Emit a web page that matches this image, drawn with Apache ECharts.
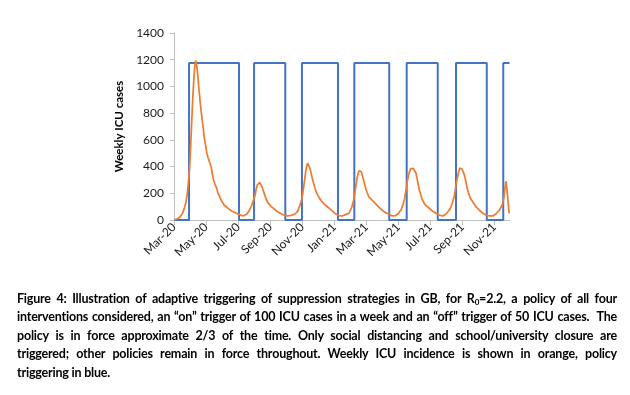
<!DOCTYPE html>
<html>
<head>
<meta charset="utf-8">
<script src="https://cdn.jsdelivr.net/npm/echarts@6/dist/echarts.min.js"></script>
<style>
  html, body { margin: 0; padding: 0; background: #ffffff; }
  #wrap { position: relative; width: 630px; height: 395px; overflow: hidden; }
  #chart { position: absolute; left: 0; top: 0; width: 630px; height: 395px; }
  #caption { position: absolute; left: 17px; top: 289.7px; width: 600px;
    font-family: Lato, "Liberation Sans", sans-serif; font-weight: bold; font-size: 12.5px;
    letter-spacing: -0.2px; color: #000; line-height: 18.6px; }
  #caption .ln { white-space: nowrap; display: block; height: 18.6px; }
  #caption .ln span { display: inline-block; white-space: nowrap; }
  sub { font-size: 8px; vertical-align: -2px; line-height: 0; }
</style>
</head>
<body>
<div id="wrap">
  <div id="chart"></div>
  <div id="caption">
    <div class="ln"><span>Figure 4: Illustration of adaptive triggering of suppression strategies in GB, for R<sub>0</sub>=2.2, a policy of all four</span></div>
    <div class="ln"><span>interventions considered, an “on” trigger of 100 ICU cases in a week and an “off” trigger of 50 ICU cases.&nbsp; The</span></div>
    <div class="ln"><span>policy is in force approximate 2/3 of the time. Only social distancing and school/university closure are</span></div>
    <div class="ln"><span>triggered; other policies remain in force throughout. Weekly ICU incidence is shown in orange, policy</span></div>
    <div class="ln last"><span>triggering in blue.</span></div>
  </div>
</div>
<script>
// ---- Data (x in months since 1 Mar 2020) ----
var tickLabels = ["Mar-20","May-20","Jul-20","Sep-20","Nov-20","Jan-21","Mar-21","May-21","Jul-21","Sep-21","Nov-21"];

var icuMonth = [0.00,0.15,0.30,0.45,0.55,0.65,0.75,0.83,0.90,0.98,1.05,1.12,1.19,1.25,1.30,1.35,1.40,1.45,1.50,1.55,1.62,1.70,1.78,1.85,1.91,1.98,2.05,2.12,2.20,2.27,2.33,2.40,2.47,2.54,2.60,2.66,2.75,2.82,2.90,2.98,3.06,3.14,3.22,3.30,3.37,3.45,3.53,3.60,3.68,3.76,3.84,3.92,4.00,4.08,4.16,4.24,4.30,4.38,4.46,4.54,4.62,4.70,4.78,4.85,4.92,5.00,5.06,5.12,5.20,5.28,5.35,5.42,5.50,5.56,5.63,5.70,5.77,5.84,5.92,6.00,6.08,6.16,6.24,6.32,6.40,6.49,6.58,6.66,6.74,6.82,6.91,7.00,7.08,7.16,7.24,7.32,7.40,7.48,7.56,7.64,7.72,7.80,7.88,7.96,8.03,8.10,8.17,8.22,8.28,8.34,8.40,8.46,8.52,8.58,8.65,8.72,8.80,8.88,8.96,9.03,9.10,9.18,9.26,9.35,9.45,9.55,9.65,9.76,9.86,9.96,10.06,10.18,10.30,10.40,10.49,10.58,10.68,10.78,10.91,11.00,11.08,11.15,11.22,11.30,11.37,11.43,11.50,11.57,11.63,11.70,11.77,11.84,11.92,12.00,12.08,12.16,12.25,12.35,12.45,12.57,12.68,12.80,12.90,12.99,13.10,13.20,13.30,13.41,13.52,13.62,13.72,13.82,13.92,14.02,14.11,14.20,14.30,14.40,14.49,14.57,14.64,14.70,14.78,14.86,14.94,15.02,15.11,15.18,15.25,15.32,15.40,15.48,15.56,15.63,15.72,15.82,15.94,16.05,16.15,16.26,16.36,16.46,16.56,16.66,16.78,16.88,16.98,17.08,17.19,17.28,17.36,17.43,17.50,17.57,17.64,17.71,17.78,17.85,17.92,17.99,18.06,18.13,18.20,18.27,18.34,18.42,18.50,18.58,18.65,18.75,18.85,18.95,19.06,19.16,19.27,19.38,19.48,19.58,19.70,19.80,19.90,20.00,20.10,20.20,20.32,20.42,20.53,20.60,20.66,20.71,20.74,20.78,20.83,20.88,20.93];

var icuValue = [0,6,15,35,55,90,135,200,280,400,580,775,950,1075,1150,1195,1170,1125,1060,990,900,810,730,660,600,555,500,470,440,415,395,340,300,275,255,240,200,185,160,140,125,110,105,95,88,80,72,68,62,58,55,50,46,42,36,32,30,33,38,45,55,70,90,110,135,160,185,225,262,275,282,270,245,225,200,175,150,135,120,108,100,92,85,75,68,62,55,48,42,40,37,33,30,30,32,34,38,40,45,50,65,90,115,145,190,250,310,360,400,425,415,395,372,340,305,275,240,210,190,175,160,150,135,125,112,100,92,88,70,60,48,37,33,30,30,33,38,42,50,68,90,115,150,210,265,310,350,370,375,360,330,300,260,225,200,175,165,150,140,125,110,95,85,75,65,55,50,45,38,30,25,32,40,50,62,80,115,160,225,290,335,360,385,395,385,370,350,310,265,225,195,160,140,125,110,100,88,75,65,58,50,42,36,33,30,35,45,58,75,95,120,150,175,230,285,325,365,390,400,380,360,338,300,260,225,190,165,150,138,120,100,88,75,62,52,45,37,33,30,30,30,35,45,58,75,95,125,170,230,275,290,240,175,110,50];

var triggerOn  = [0.94, 5.00, 7.99, 11.26, 14.53, 17.61, 20.56];
var triggerOff = [4.06, 6.95, 10.24, 13.44, 16.47, 19.53];
var policyLevel = 1175;
var xEnd = 20.95;

// ---- Build series data ----
var icuData = icuMonth.map(function (m, i) { return [m, icuValue[i]]; });
var policyData = [[0, 0]];
for (var i = 0; i < triggerOn.length; i++) {
  policyData.push([triggerOn[i], 0], [triggerOn[i], policyLevel]);
  if (i < triggerOff.length) {
    policyData.push([triggerOff[i], policyLevel], [triggerOff[i], 0]);
  } else {
    policyData.push([xEnd, policyLevel]);
  }
}

var font = 'Lato, "Liberation Sans", sans-serif';
var chart = echarts.init(document.getElementById('chart'), null, { renderer: 'canvas' });
chart.setOption({
  animation: false,
  backgroundColor: '#ffffff',
  grid: { left: 174, top: 33, width: 335.5, height: 187, containLabel: false },
  xAxis: {
    type: 'value', min: 0, max: xEnd, interval: 2,
    axisLine: { show: true, lineStyle: { color: '#BFBFBF', width: 1 } },
    axisTick: { show: true, length: 5, lineStyle: { color: '#BFBFBF' } },
    splitLine: { show: false },
    axisLabel: {
      rotate: 45, margin: 5, fontFamily: font, fontSize: 12, color: '#1a1a1a',
      showMaxLabel: false,
      formatter: function (v) {
        var k = Math.round(v / 2);
        if (Math.abs(v - k * 2) < 1e-6 && k >= 0 && k < tickLabels.length) return tickLabels[k];
        return '';
      }
    }
  },
  yAxis: {
    type: 'value', min: 0, max: 1400, interval: 200,
    name: 'Weekly ICU cases', nameLocation: 'middle', nameGap: 42,
    nameTextStyle: { fontFamily: font, fontSize: 11.5, fontWeight: 'bold', color: '#000' },
    axisLine: { show: true, lineStyle: { color: '#BFBFBF', width: 1 } },
    axisTick: { show: true, length: 4, lineStyle: { color: '#BFBFBF' } },
    splitLine: { show: false },
    axisLabel: {
      margin: 10, fontFamily: font, fontSize: 12, color: '#1a1a1a',
      formatter: function (v) { return String(v); }
    }
  },
  series: [
    {
      name: 'Policy triggering', type: 'line', data: policyData,
      showSymbol: false, symbol: 'none', z: 2,
      lineStyle: { color: '#4472C4', width: 2 }
    },
    {
      name: 'Weekly ICU incidence', type: 'line', data: icuData,
      showSymbol: false, symbol: 'none', z: 3,
      lineStyle: { color: '#ED7D31', width: 1.75 }
    }
  ]
});

// ---- Justify caption lines ----
function justify() {
  var lines = document.querySelectorAll('#caption .ln');
  lines.forEach(function (ln) {
    var span = ln.querySelector('span');
    span.style.wordSpacing = '0px';
    if (ln.classList.contains('last')) return;
    var w = span.getBoundingClientRect().width;
    var text = span.textContent;
    var spaces = (text.match(/[ \u00a0]/g) || []).length;
    if (spaces > 0) span.style.wordSpacing = ((600 - w) / spaces) + 'px';
  });
}
justify();
if (document.fonts && document.fonts.ready) document.fonts.ready.then(justify);
</script>
</body>
</html>
